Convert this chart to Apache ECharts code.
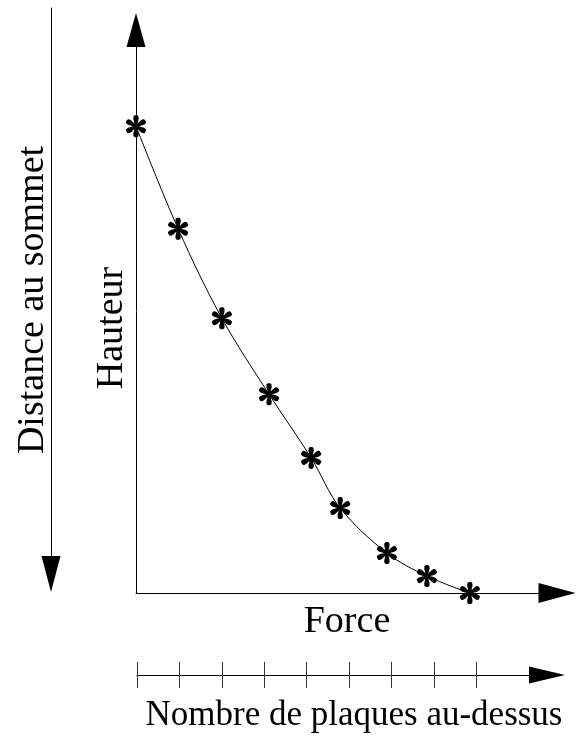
<!DOCTYPE html>
<html>
<head>
<meta charset="utf-8">
<title>Hauteur / Force</title>
<script src="https://cdn.jsdelivr.net/npm/echarts@6/dist/echarts.min.js"></script>
<style>
  html, body { margin: 0; padding: 0; background: #fff; }
  #chart { width: 586px; height: 739px; }
</style>
</head>
<body>
<div id="chart"></div>
<script>
// valeurs (échelle 0-100 sur chaque axe)
const force = [0, 10.0, 20.4, 31.6, 41.6, 48.5, 59.6, 69.1, 79.3]
const hauteur = [82.9, 64.7, 48.8, 35.3, 24.0, 15.1, 7.1, 3.0, 0]
const plaques = [0, 1, 2, 3, 4, 5, 6, 7, 8]

const labelFont = '"Liberation Serif", "Times New Roman", serif'

// astérisque à 6 branches
function asteriskPath() {
  let d = ''
  for (let k = 0; k < 6; k++) {
    const a = Math.PI / 2 + (k * Math.PI) / 3
    const dx = Math.cos(a), dy = -Math.sin(a)
    const px = -dy, py = dx
    const pt = (l, w) => (50 + dx * l + px * w).toFixed(2) + ' ' + (50 + dy * l + py * w).toFixed(2)
    d += 'M' + pt(0, 4) + 'L' + pt(32, 12) + 'Q' + pt(53, 14) + ' ' + pt(50, 0) +
      'Q' + pt(53, -14) + ' ' + pt(32, -12) + 'L' + pt(0, -4) + 'Z'
  }
  return 'path://' + d
}

const chart = echarts.init(document.getElementById('chart'))

const hidden = { show: false }
const arrowLine = (w, h, atStart) => ({
  show: true,
  symbol: atStart ? ['triangle', 'none'] : ['none', 'triangle'],
  symbolSize: [w, h],
  lineStyle: { color: '#000', width: 1 }
})

const option = {
  animation: false,
  grid: [
    { left: 136, right: 29, top: 30, bottom: 146 },
    { left: 137, right: 39, top: 600, height: 75 },
    { left: 51, width: 10, top: 8, bottom: 165 }
  ],
  xAxis: [
    {
      gridIndex: 0, type: 'value', min: 0, max: 100,
      axisLine: arrowLine(20, 37),
      axisTick: hidden, axisLabel: hidden, splitLine: hidden
    },
    {
      gridIndex: 1, type: 'value', position: 'bottom', min: 0, max: 9.67,
      axisLine: arrowLine(17, 36),
      axisTick: { show: true, length: 13, customValues: plaques, lineStyle: { color: '#333', width: 1 } },
      axisLabel: hidden, splitLine: hidden
    },
    {
      gridIndex: 1, type: 'value', position: 'bottom', offset: 0, min: 0, max: 9.67,
      axisLine: hidden,
      axisTick: { show: true, inside: true, length: 13, customValues: plaques, lineStyle: { color: '#333', width: 1 } },
      axisLabel: hidden, splitLine: hidden
    },
    { gridIndex: 2, type: 'value', show: false, min: 0, max: 1 }
  ],
  yAxis: [
    {
      gridIndex: 0, type: 'value', min: 0, max: 100,
      axisLine: arrowLine(19, 34),
      axisTick: hidden, axisLabel: hidden, splitLine: hidden
    },
    { gridIndex: 1, type: 'value', show: false, min: 0, max: 1 },
    {
      // distance au sommet : croît vers le bas
      gridIndex: 2, type: 'value', min: 0, max: 100,
      axisLine: arrowLine(19, 36, true),
      axisTick: hidden, axisLabel: hidden, splitLine: hidden
    }
  ],
  series: [
    {
      type: 'line',
      xAxisIndex: 0,
      yAxisIndex: 0,
      data: force.map((f, i) => [f, hauteur[i]]),
      smooth: 0.35,
      clip: false,
      symbol: asteriskPath(),
      symbolSize: 22,
      symbolKeepAspect: true,
      itemStyle: { color: '#000' },
      lineStyle: { color: '#000', width: 1 }
    }
  ],
  graphic: [
    { type: 'text', x: 347, y: 622, style: { text: 'Force', fontSize: 38, fontFamily: labelFont, fill: '#000', textAlign: 'center', textVerticalAlign: 'middle' } },
    { type: 'text', x: 354, y: 716, style: { text: 'Nombre de plaques au-dessus', fontSize: 35, fontFamily: labelFont, fill: '#000', textAlign: 'center', textVerticalAlign: 'middle' } },
    { type: 'text', x: 112, y: 328, rotation: Math.PI / 2, style: { text: 'Hauteur', fontSize: 38, fontFamily: labelFont, fill: '#000', textAlign: 'center', textVerticalAlign: 'middle' } },
    { type: 'text', x: 33, y: 300, rotation: Math.PI / 2, style: { text: 'Distance au sommet', fontSize: 38, fontFamily: labelFont, fill: '#000', textAlign: 'center', textVerticalAlign: 'middle' } }
  ]
}

chart.setOption(option)
</script>
</body>
</html>
